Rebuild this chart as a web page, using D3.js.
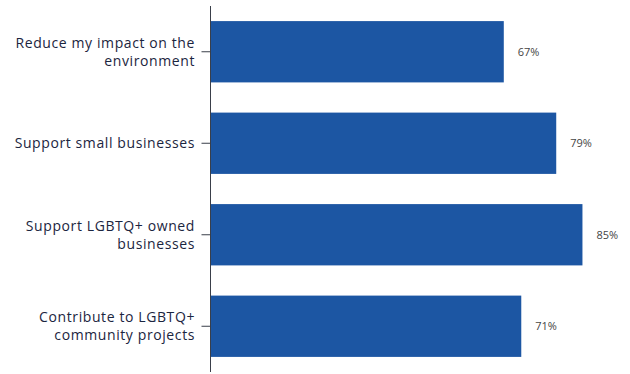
<!DOCTYPE html>
<html><head><meta charset="utf-8">
<script src="https://cdn.jsdelivr.net/npm/d3@7"></script>
<style>body{margin:0;background:#fff}svg{display:block}</style>
</head><body>
<svg id="c" width="630" height="374"></svg>
<script>
const categories = [
  ["Reduce my impact on the", "environment"],
  ["Support small businesses"],
  ["Support LGBTQ+ owned", "businesses"],
  ["Contribute to LGBTQ+", "community projects"]
];
const values = [67, 79, 85, 71];
const valueLabels = ["67%", "79%", "85%", "71%"];

const svg = d3.select("#c");
const x = d3.scaleLinear().domain([0, 100]).range([211, 648]);
const y = d3.scaleBand().domain(d3.range(categories.length)).range([6, 372]).paddingInner(0.33).paddingOuter(0.165);

svg.selectAll("rect.bar").data(values).join("rect")
  .attr("class", "bar")
  .attr("x", x(0))
  .attr("y", (d, i) => y(i))
  .attr("width", d => x(d) - x(0))
  .attr("height", y.bandwidth())
  .attr("fill", "#1c56a3");

const axis = d3.axisLeft(y).tickSize(9).tickFormat("");
const g = svg.append("g").attr("transform", `translate(${x(0) - 0.5},0)`).call(axis);
g.select(".domain").attr("stroke", "#3a3f4a").attr("d", `M0,6V372`);
g.selectAll(".tick line").attr("stroke", "#3a3f4a");

const fontFam = "'Open Sans', 'Noto Sans', sans-serif";
categories.forEach((lines, i) => {
  const cy = y(i) + y.bandwidth() / 2;
  const lh = 18;
  const t = svg.append("text")
    .attr("text-anchor", "end")
    .attr("font-family", fontFam)
    .attr("font-size", 14)
    .attr("letter-spacing", "0.6px")
    .attr("fill", "#1b2540");
  lines.forEach((ln, j) => {
    t.append("tspan").attr("x", 195)
      .attr("y", cy + (j - (lines.length - 1) / 2) * lh + 5)
      .text(ln);
  });
});

svg.selectAll("text.val").data(values).join("text")
  .attr("class", "val")
  .attr("x", d => x(d) + 14)
  .attr("y", (d, i) => y(i) + y.bandwidth() / 2 + 4)
  .attr("font-family", fontFam)
  .attr("font-size", 11)
  .attr("fill", "#444")
  .text((d, i) => valueLabels[i]);
</script>
</body></html>
